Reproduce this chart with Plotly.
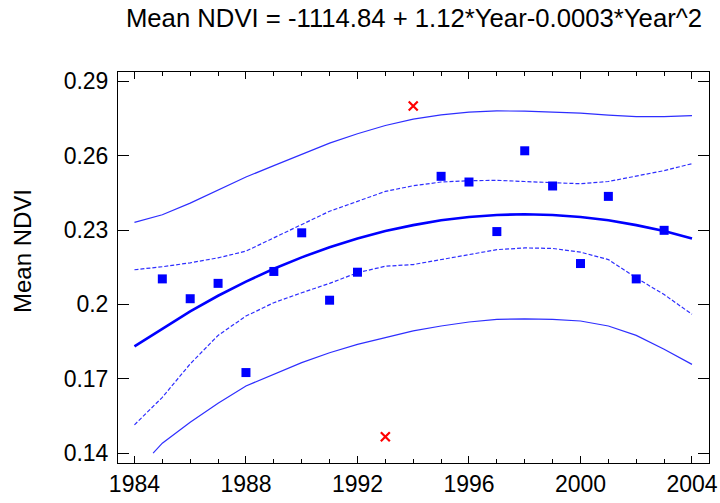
import plotly.graph_objects as go

# observed yearly means (blue squares) and the two outliers (red crosses)
years = [1985, 1986, 1987, 1988, 1989, 1990, 1991, 1992,
         1995, 1996, 1997, 1998, 1999, 2000, 2001, 2002, 2003]
ndvi = [0.2103, 0.2023, 0.2085, 0.1725, 0.2133, 0.2289, 0.2017, 0.2130,
        0.2517, 0.2494, 0.2294, 0.2620, 0.2478, 0.2165, 0.2436, 0.2103, 0.2299]
out_years = [1993, 1994]
out_ndvi = [0.1466, 0.2801]

# fitted quadratic and bands at each year
curve_years = list(range(1984, 2005))
fit = [0.1831, 0.1900, 0.1972, 0.2035, 0.2092, 0.2144, 0.2190, 0.2231, 0.2266,
       0.2296, 0.2320, 0.2340, 0.2353, 0.2361, 0.2364, 0.2361, 0.2353, 0.2340,
       0.2320, 0.2296, 0.2266]
conf_hi = [0.2140, 0.2152, 0.2168, 0.2188, 0.2215, 0.2269, 0.2322, 0.2376, 0.2416,
           0.2456, 0.2479, 0.2494, 0.2499, 0.2501, 0.2496, 0.2490, 0.2487, 0.2496,
           0.2517, 0.2540, 0.2568]
conf_lo = [0.1514, 0.1625, 0.1760, 0.1875, 0.1953, 0.2007, 0.2047, 0.2085, 0.2128,
           0.2154, 0.2161, 0.2181, 0.2201, 0.2221, 0.2228, 0.2226, 0.2211, 0.2181,
           0.2107, 0.2040, 0.1960]
pred_hi = [0.2331, 0.2362, 0.2409, 0.2460, 0.2514, 0.2560, 0.2607, 0.2651, 0.2689,
           0.2722, 0.2748, 0.2765, 0.2776, 0.2781, 0.2780, 0.2777, 0.2772, 0.2764,
           0.2758, 0.2758, 0.2762]
pred_lo_years = [1984.67] + list(range(1985, 2005))
pred_lo = [0.1400, 0.1440, 0.1524, 0.1601, 0.1671, 0.1718, 0.1765, 0.1805, 0.1839,
           0.1866, 0.1893, 0.1913, 0.1929, 0.1940, 0.1942, 0.1940, 0.1933, 0.1913,
           0.1875, 0.1819, 0.1758]

y_ticks = [0.14, 0.17, 0.2, 0.23, 0.26, 0.29]
y_ticktext = ["0.14", "0.17", "0.2", "0.23", "0.26", "0.29"]
x_ticks = [1984, 1988, 1992, 1996, 2000, 2004]

thin = dict(color="#2e2eff", width=1.2)

fig = go.Figure()
fig.add_trace(go.Scatter(x=curve_years, y=pred_hi, mode="lines", line=thin))
fig.add_trace(go.Scatter(x=pred_lo_years, y=pred_lo, mode="lines", line=thin))
fig.add_trace(go.Scatter(x=curve_years, y=conf_hi, mode="lines",
                         line=dict(thin, dash="4px,2px")))
fig.add_trace(go.Scatter(x=curve_years, y=conf_lo, mode="lines",
                         line=dict(thin, dash="4px,2px")))
fig.add_trace(go.Scatter(x=curve_years, y=fit, mode="lines",
                         line=dict(color="#0000ff", width=2.6)))
fig.add_trace(go.Scatter(x=years, y=ndvi, mode="markers",
                         marker=dict(symbol="square", size=9, color="#0000ff")))
fig.add_trace(go.Scatter(x=out_years, y=out_ndvi, mode="markers",
                         marker=dict(symbol="x-thin", size=9,
                                     line=dict(color="#ff0000", width=2.2))))

font_family = "Arial, Liberation Sans, sans-serif"
axis_font = dict(family=font_family, size=23, color="black")

fig.update_layout(
    width=720, height=503,
    margin=dict(l=118, r=11, t=72, b=40),
    paper_bgcolor="white", plot_bgcolor="white",
    showlegend=False,
    title=dict(text="Mean NDVI = -1114.84 + 1.12*Year-0.0003*Year^2",
               x=414 / 720, xref="container", xanchor="center",
               y=1 - 18 / 503, yref="container", yanchor="middle", automargin=False,
               font=dict(family=font_family, size=25.7, color="black")),
    xaxis=dict(range=[1983.41, 2004.61], tickvals=x_ticks, ticks="inside", ticklen=7,
               tickcolor="black", showline=True, linecolor="black", linewidth=1,
               mirror="allticks", showgrid=False, zeroline=False, tickfont=axis_font,
               automargin=False, ticklabeloverflow="allow",
               minor=dict(dtick=1, ticks="inside", ticklen=4, tickcolor="black")),
    yaxis=dict(range=[0.136, 0.2938], tickvals=y_ticks, ticktext=y_ticktext,
               ticks="inside", ticklen=11, tickcolor="black", showline=True,
               linecolor="black", linewidth=1, mirror="allticks", showgrid=False,
               zeroline=False, tickfont=axis_font, ticklabelstandoff=4,
               automargin=False),
)

fig.add_annotation(text="Mean NDVI", textangle=-90, showarrow=False,
                   xref="paper", yref="paper", x=(22 - 118) / 591, y=(463 - 251) / 391,
                   xanchor="center", yanchor="middle",
                   font=dict(family=font_family, size=24, color="black"))

# drop the page's default 8px body margin so the figure fills the window
fig.write_html("out.html", config={"displayModeBar": False},
               post_script="document.body.style.margin = '0';")
